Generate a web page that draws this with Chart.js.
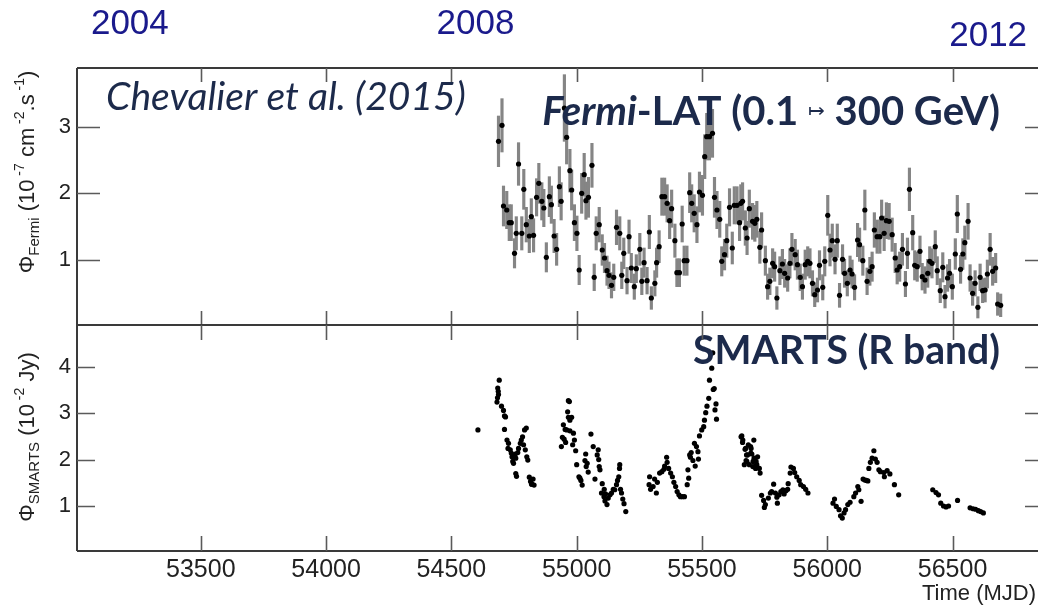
<!DOCTYPE html>
<html lang="en">
<head>
<meta charset="UTF-8">
<title>Fermi-LAT and SMARTS light curves</title>
<script src="https://cdn.jsdelivr.net/npm/chart.js"></script>
<style>
  body { margin: 0; background: #fff; }
  .wrap { position: relative; width: 1042px; height: 605px; }
  .wrap canvas { position: absolute; left: 0; top: 0; }
</style>
</head>
<body>
<div class="wrap">
  <canvas id="fermi" width="1042" height="605"></canvas>
  <canvas id="smarts" width="1042" height="605"></canvas>
</div>
<script>
// Fermi-LAT weekly fluxes (1e-7 cm^-2 s^-1)
const fermiMjd = [54688,54702,54708,54721,54731,54739,54752,54759,54768,54781,54789,54799,54811,54819,54828,54840,54849,54861,54869,54879,
  54891,54899,54910,54920,54931,54938,54951,54960,54973,54980,54991,55001,55010,55020,55030,55037,55047,55061,55070,55078,
  55090,55102,55111,55121,55129,55139,55148,55159,55172,55180,55188,55201,55209,55218,55230,55238,55252,55260,55269,55281,
  55290,55298,55312,55319,55329,55340,55351,55361,55371,55379,55392,55400,55410,55421,55429,55440,55451,55459,55469,55480,
  55490,55502,55511,55519,55530,55542,55550,55560,55571,55579,55590,55599,55610,55621,55629,55640,55650,55655,55662,55673,
  55680,55689,55702,55711,55719,55731,55738,55753,55762,55771,55782,55790,55799,55811,55821,55830,55842,55851,55859,55872,
  55881,55892,55901,55912,55922,55931,55941,55950,55961,55969,55982,55990,56002,56011,56020,56031,56040,56049,56061,56069,
  56080,56091,56099,56109,56121,56129,56142,56150,56159,56170,56179,56188,56199,56210,56217,56227,56236,56247,56259,56271,
  56279,56289,56300,56312,56320,56328,56341,56349,56359,56370,56379,56390,56401,56409,56418,56431,56439,56451,56461,56470,
  56480,56488,56499,56511,56519,56532,56541,56549,56562,56570,56580,56590,56601,56610,56620,56630,56639,56650,56660,56672,
  56680,56692];
const fermiFlux = [2.78,3.02,1.81,1.75,1.56,1.56,1.10,1.40,2.44,1.40,2.06,1.53,1.36,1.65,1.37,1.94,2.15,1.88,1.78,1.04,
  1.95,1.83,1.36,1.16,2.10,1.88,3.28,2.84,2.34,2.05,1.56,1.40,0.85,2.00,2.28,1.89,1.94,2.42,0.74,1.40,
  1.53,1.15,1.03,0.84,0.77,0.62,0.74,1.49,1.40,0.77,1.10,0.69,1.35,0.88,0.60,0.87,1.16,0.68,0.96,0.69,
  1.42,0.43,0.65,0.96,1.20,1.95,1.95,1.85,1.59,1.77,1.29,0.81,0.81,1.54,0.99,0.99,2.01,1.85,1.70,1.53,
  2.02,1.97,2.55,2.85,2.85,2.90,1.94,1.75,1.61,0.98,1.08,1.29,1.79,1.18,1.82,1.82,1.56,1.85,1.88,1.48,
  1.33,1.77,1.58,1.55,1.61,1.19,1.45,0.99,0.60,0.68,0.95,0.90,0.43,0.84,0.94,0.80,0.73,0.95,1.16,1.08,
  0.93,0.74,0.60,0.93,0.98,0.95,0.65,0.48,0.55,0.92,0.59,0.98,1.67,1.15,1.29,1.01,1.29,0.47,1.01,0.80,
  0.65,0.85,0.79,0.59,1.30,1.23,0.99,1.75,0.68,0.83,0.90,1.45,1.35,1.35,1.63,1.40,1.59,1.58,1.38,1.03,
  0.85,0.90,1.16,0.64,1.10,2.06,1.41,0.92,0.90,1.13,0.75,0.70,0.80,0.98,0.95,1.20,0.84,0.54,0.89,0.45,
  0.73,0.80,0.60,1.09,1.69,0.86,1.09,1.26,1.58,0.73,0.50,0.65,0.29,0.74,0.54,0.55,0.79,1.16,0.83,0.88,
  0.34,0.32];
const fermiErr = [0.38,0.40,0.30,0.28,0.27,0.27,0.22,0.25,0.32,0.25,0.30,0.26,0.25,0.27,0.25,0.28,0.30,0.28,0.28,0.22,
  0.30,0.28,0.25,0.24,0.30,0.28,0.50,0.40,0.32,0.30,0.27,0.26,0.22,0.30,0.32,0.28,0.30,0.33,0.20,0.25,
  0.26,0.23,0.22,0.22,0.20,0.19,0.20,0.26,0.25,0.20,0.23,0.20,0.25,0.22,0.19,0.21,0.24,0.20,0.22,0.20,
  0.25,0.17,0.19,0.22,0.24,0.28,0.28,0.28,0.27,0.28,0.25,0.21,0.21,0.27,0.22,0.22,0.30,0.28,0.28,0.27,
  0.30,0.30,0.33,0.35,0.35,0.36,0.30,0.28,0.27,0.22,0.23,0.25,0.28,0.24,0.28,0.28,0.27,0.28,0.28,0.26,
  0.25,0.28,0.27,0.27,0.27,0.24,0.26,0.22,0.19,0.20,0.22,0.22,0.17,0.21,0.22,0.21,0.20,0.22,0.24,0.23,
  0.22,0.20,0.19,0.22,0.22,0.22,0.19,0.18,0.18,0.22,0.19,0.22,0.30,0.24,0.25,0.22,0.25,0.18,0.22,0.21,
  0.19,0.21,0.21,0.19,0.25,0.25,0.22,0.30,0.20,0.21,0.22,0.26,0.25,0.25,0.27,0.26,0.27,0.27,0.25,0.22,
  0.21,0.22,0.24,0.19,0.23,0.32,0.26,0.22,0.22,0.23,0.20,0.20,0.21,0.22,0.22,0.24,0.21,0.18,0.22,0.17,
  0.20,0.21,0.19,0.23,0.28,0.21,0.23,0.25,0.27,0.20,0.18,0.19,0.16,0.20,0.18,0.18,0.21,0.24,0.21,0.22,
  0.17,0.17];

// SMARTS R-band fluxes (1e-2 Jy)
const smartsMjd = [54606,54682,54684,54685,54687,54688,54691,54700,54708,54712,54712,54716,54722,54726,54728,54735,54739,54742,54745,54748,
  54755,54757,54757,54760,54765,54768,54775,54779,54784,54788,54792,54795,54799,54801,54805,54811,54816,54820,54822,54826,
  54830,54939,54943,54947,54950,54954,54956,54960,54964,54967,54967,54971,54973,54973,54980,54984,54987,54991,54996,55000,
  55009,55013,55017,55022,55033,55036,55038,55042,55046,55057,55066,55073,55082,55086,55088,55090,55093,55099,55102,55109,
  55110,55113,55115,55121,55126,55133,55139,55146,55152,55159,55163,55168,55171,55172,55175,55179,55184,55189,55196,55289,
  55291,55295,55305,55311,55318,55322,55331,55340,55348,55351,55359,55361,55367,55375,55382,55388,55395,55401,55408,55414,
  55422,55430,55441,55444,55447,55451,55454,55457,55464,55470,55473,55478,55484,55486,55490,55499,55507,55510,55515,55520,
  55527,55530,55539,55543,55545,55549,55552,55556,55558,55656,55659,55662,55663,55669,55672,55674,55676,55678,55679,55682,
  55685,55689,55694,55695,55696,55699,55703,55704,55707,55708,55713,55714,55716,55719,55722,55729,55732,55738,55746,55749,
  55753,55765,55773,55778,55786,55793,55799,55801,55808,55815,55823,55828,55835,55842,55844,55852,55855,55865,55870,55878,
  55888,55894,55905,55914,55923,56023,56029,56036,56047,56053,56060,56067,56073,56082,56091,56106,56113,56122,56126,56135,
  56143,56150,56156,56162,56166,56172,56179,56186,56192,56199,56206,56212,56226,56228,56239,56250,56268,56285,56421,56434,
  56444,56453,56464,56474,56484,56520,56570,56582,56592,56603,56612,56623];
const smartsFlux = [2.64,3.24,3.33,3.54,3.47,3.40,3.71,3.15,3.06,2.94,2.65,2.92,2.42,2.24,2.35,2.21,2.14,2.06,1.96,1.92,
  2.12,2.03,1.70,1.64,2.15,2.24,2.35,2.42,2.49,2.32,2.64,2.21,2.68,2.06,1.99,1.62,1.53,1.47,1.47,1.58,
  1.45,2.28,2.48,2.75,2.44,2.65,2.37,2.64,3.03,3.27,2.91,3.25,2.85,2.62,2.91,2.32,2.57,2.42,2.19,1.89,
  1.63,1.60,1.55,1.45,1.98,2.12,1.85,1.92,1.73,2.55,2.28,1.58,2.10,2.21,2.00,1.85,1.78,1.28,1.48,1.20,
  1.36,1.11,1.26,1.03,1.17,1.24,1.28,1.36,1.35,1.46,1.55,1.63,1.81,1.89,1.36,1.28,1.15,1.05,0.88,1.46,
  1.63,1.36,1.42,1.58,1.28,1.51,1.71,1.74,1.79,1.86,2.05,1.94,1.81,1.71,1.63,1.51,1.42,1.31,1.24,1.20,
  1.20,1.20,1.46,1.78,1.60,2.10,2.05,2.15,1.98,2.35,1.86,2.28,2.17,2.01,2.51,2.64,2.71,2.85,3.01,3.15,
  3.32,3.71,3.97,4.30,3.51,3.53,3.07,3.20,2.87,2.49,2.51,2.37,2.42,1.89,2.22,2.24,1.98,2.10,1.96,2.10,
  2.32,1.89,2.28,2.14,2.24,2.12,1.85,1.96,2.42,2.03,1.86,1.81,1.96,1.89,2.06,1.81,1.71,1.23,1.12,0.97,
  1.03,1.17,1.28,1.31,1.47,1.28,1.19,1.06,1.24,1.31,1.35,1.26,1.33,1.36,1.48,1.71,1.84,1.81,1.72,1.63,
  1.55,1.46,1.42,1.36,1.28,1.06,1.15,0.99,0.92,0.79,0.74,0.85,0.92,1.03,1.08,1.20,1.28,1.42,1.35,1.10,
  1.58,1.56,1.55,1.54,1.81,1.94,2.03,2.19,2.01,1.94,1.78,1.74,1.72,1.63,1.76,1.69,1.46,1.24,1.35,1.29,
  1.24,1.06,1.00,0.98,1.00,1.12,0.96,0.94,0.93,0.90,0.88,0.85];

// axes
const mjdTicks = [53500, 54000, 54500, 55000, 55500, 56000, 56500];
const fermiTicks = [1, 2, 3];
const smartsTicks = [1, 2, 3, 4];
const yearLabels = ['2004', '2008', '2012'];
const yearMjd = [53217, 54596, 56642];

const AXIS_FONT = "'Liberation Sans', Arial, sans-serif";
const NOTE_FONT = "Lato, 'Open Sans', sans-serif";
const NOTE_COLOR = '#1c2a4b';

Chart.defaults.animation = false;

function runsWidth(ctx, runs) {
  let w = 0;
  runs.forEach(r => { ctx.font = r[1]; w += ctx.measureText(r[0]).width; });
  return w;
}

// draw a line of text made of differently styled runs: [text, font, dy]
function drawRuns(ctx, runs, x, y, align) {
  const w = runsWidth(ctx, runs);
  let cx = align === 'right' ? x - w : (align === 'center' ? x - w / 2 : x);
  runs.forEach(r => {
    ctx.font = r[1];
    ctx.fillText(r[0], cx, y + (r[2] || 0));
    cx += ctx.measureText(r[0]).width;
  });
}

// annotation runs built for a font size, then resized to span the wanted width
function fitRuns(ctx, build, width) {
  const w = runsWidth(ctx, build(32));
  return build(32 * width / w);
}

function yTitle(ctx, runs, x, y) {
  ctx.save();
  ctx.translate(x, y);
  ctx.rotate(-Math.PI / 2);
  ctx.fillStyle = '#222';
  ctx.textBaseline = 'alphabetic';
  drawRuns(ctx, runs, 0, 0, 'center');
  ctx.restore();
}

// box + inward ticks like the original plotting package
const frame = {
  id: 'frame',
  afterDraw(chart, args, o) {
    const { ctx, chartArea: a } = chart;
    const x = chart.scales.x, y = chart.scales.y;
    ctx.save();
    ctx.strokeStyle = '#3a3a3a';
    ctx.lineWidth = 2;
    ctx.beginPath();
    ctx.moveTo(a.left, a.top); ctx.lineTo(a.right, a.top);
    ctx.moveTo(a.left, a.top); ctx.lineTo(a.left, a.bottom);
    ctx.moveTo(a.left, a.bottom); ctx.lineTo(a.right, a.bottom);
    ctx.stroke();
    ctx.strokeStyle = '#5a5a5a';
    ctx.lineWidth = 1.6;
    ctx.beginPath();
    mjdTicks.forEach(v => {
      const px = Math.round(x.getPixelForValue(v)) + 0.5;
      ctx.moveTo(px, a.top); ctx.lineTo(px, a.top + o.xTick);
      ctx.moveTo(px, a.bottom); ctx.lineTo(px, a.bottom - o.xTick);
    });
    o.yTicks.forEach(v => {
      const py = Math.round(y.getPixelForValue(v)) + 0.5;
      ctx.moveTo(a.left, py); ctx.lineTo(a.left + o.yTick, py);
      ctx.moveTo(a.right, py); ctx.lineTo(a.right - 13, py);
    });
    ctx.stroke();
    ctx.restore();
  }
};

const notes = {
  id: 'notes',
  afterDatasetsDraw(chart, args, o) {
    const ctx = chart.ctx;
    ctx.save();
    ctx.textBaseline = 'alphabetic';
    if (o.panel === 'fermi') {
      const x = chart.scales.x;
      ctx.fillStyle = '#1a1a8c';
      ctx.font = '35px ' + AXIS_FONT;
      ctx.textAlign = 'center';
      const base = [34, 34, 46];
      yearLabels.forEach((t, i) => ctx.fillText(t, x.getPixelForValue(yearMjd[i]), base[i]));
      ctx.textAlign = 'left';
      ctx.fillStyle = NOTE_COLOR;
      drawRuns(ctx, fitRuns(ctx, s => [['Chevalier et al. (2015)', 'italic ' + s + 'px ' + NOTE_FONT]], 360), 106, 110, 'left');
      drawRuns(ctx, fitRuns(ctx, s => {
        const b = 'bold ' + s + 'px ' + NOTE_FONT;
        return [['Fermi', 'italic ' + b], ['-LAT (0.1 ', b], ['\u21A6', (s * 0.5) + 'px ' + NOTE_FONT, -s * 0.2], [' 300 GeV)', b]];
      }, 457), 1000, 125, 'right');
      yTitle(ctx, [['\u03A6', '22px ' + AXIS_FONT], ['Fermi', '15px ' + AXIS_FONT, 5], [' (10', '22px ' + AXIS_FONT],
        [' -7', '14px ' + AXIS_FONT, -10], [' cm', '22px ' + AXIS_FONT], [' -2', '14px ' + AXIS_FONT, -10],
        ['.s', '22px ' + AXIS_FONT], [' -1', '14px ' + AXIS_FONT, -10], [')', '22px ' + AXIS_FONT]], 34, 172);
    } else {
      ctx.fillStyle = NOTE_COLOR;
      drawRuns(ctx, fitRuns(ctx, s => [['SMARTS (R band)', 'bold ' + s + 'px ' + NOTE_FONT]], 307), 1000, 364, 'right');
      ctx.fillStyle = '#222';
      ctx.font = '22px ' + AXIS_FONT;
      ctx.textAlign = 'right';
      ctx.fillText('Time (MJD)', 1036, 600);
      ctx.textAlign = 'left';
      yTitle(ctx, [['\u03A6', '22px ' + AXIS_FONT], ['SMARTS', '15px ' + AXIS_FONT, 5], [' (10', '22px ' + AXIS_FONT],
        [' -2', '14px ' + AXIS_FONT, -10], [' Jy)', '22px ' + AXIS_FONT]], 34, 437);
    }
    ctx.restore();
  }
};

function yAxis(min, max, ticks) {
  return {
    min: min, max: max,
    grid: { display: false, drawTicks: false },
    border: { display: false },
    afterBuildTicks: s => { s.ticks = ticks.map(v => ({ value: v })); },
    afterFit: s => { s.width = 77; },
    ticks: { padding: 6, color: '#222', font: { family: AXIS_FONT, size: 22 } }
  };
}

new Chart(document.getElementById('fermi'), {
  type: 'scatter',
  data: {
    datasets: [
      {
        type: 'scatter', order: 1,
        data: fermiMjd.map((m, i) => ({ x: m, y: fermiFlux[i] })),
        pointRadius: 2.6, pointBackgroundColor: '#000', pointBorderWidth: 0
      },
      {
        type: 'bar', order: 2,
        data: fermiMjd.map((m, i) => ({ x: m, y: [fermiFlux[i] - fermiErr[i], fermiFlux[i] + fermiErr[i]] })),
        backgroundColor: '#858585', borderWidth: 0, barThickness: 2.5, grouped: false
      }
    ]
  },
  options: {
    responsive: false,
    layout: { padding: { top: 68, bottom: 280, left: 0, right: 0 } },
    plugins: { legend: { display: false }, tooltip: { enabled: false },
      frame: { xTick: 14, yTick: 23, yTicks: fermiTicks }, notes: { panel: 'fermi' } },
    scales: {
      x: { type: 'linear', min: 53006, max: 56841, offset: false, display: false },
      y: yAxis(0.025, 3.88, fermiTicks)
    }
  },
  plugins: [frame, notes]
});

new Chart(document.getElementById('smarts'), {
  type: 'scatter',
  data: {
    datasets: [{
      data: smartsMjd.map((m, i) => ({ x: m, y: smartsFlux[i] })),
      pointRadius: 2.6, pointBackgroundColor: '#000', pointBorderWidth: 0
    }]
  },
  options: {
    responsive: false,
    layout: { padding: { top: 325, bottom: 0, left: 0, right: 0 } },
    plugins: { legend: { display: false }, tooltip: { enabled: false },
      frame: { xTick: 15, yTick: 18, yTicks: smartsTicks }, notes: { panel: 'smarts' } },
    scales: {
      x: {
        type: 'linear', min: 53006, max: 56841, offset: false,
        grid: { display: false, drawTicks: false },
        border: { display: false },
        afterBuildTicks: s => { s.ticks = mjdTicks.map(v => ({ value: v })); },
        afterFit: s => { s.height = 54; },
        ticks: { padding: 4, maxRotation: 0, color: '#222', font: { family: AXIS_FONT, size: 25 }, callback: v => String(v) }
      },
      y: yAxis(0.03, 4.9, smartsTicks)
    }
  },
  plugins: [frame, notes]
});
</script>
</body>
</html>
